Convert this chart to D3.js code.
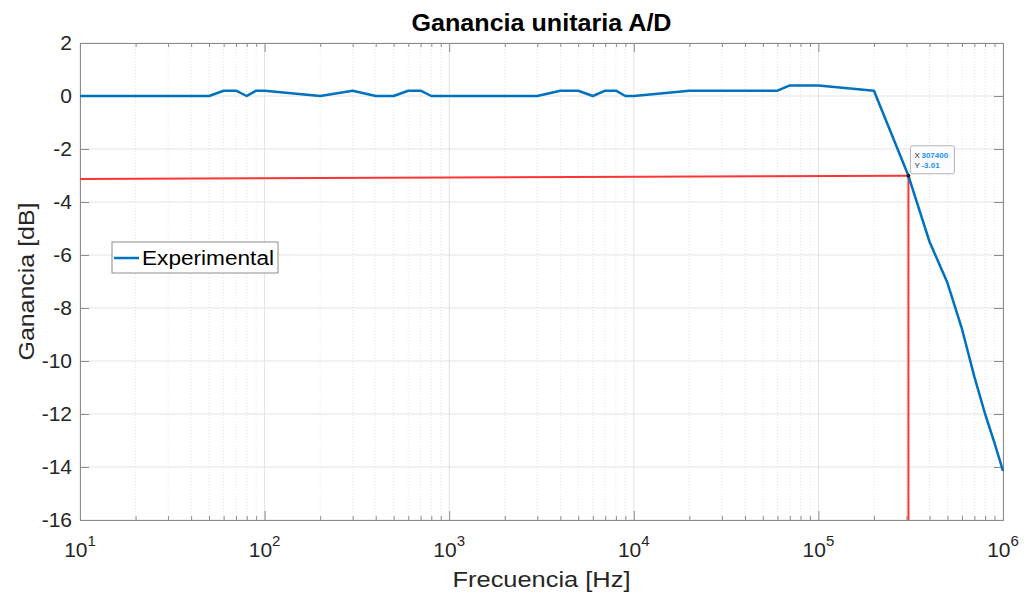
<!DOCTYPE html>
<meta charset="utf-8">
<script src="https://cdn.jsdelivr.net/npm/d3@7"></script>
<style>
body { margin: 0; background: #fff; }
text { font-family: "Liberation Sans", Arial, sans-serif; fill: #262626; }
</style>
<body>
<div id="chart"></div>
<script>
// measured points (frequency in Hz, gain in dB)
var freq = [10, 50, 60, 70, 80, 90, 100, 200, 300, 400, 500, 600, 700, 800, 1000, 2000, 3000,
            4000, 5000, 6000, 7000, 8000, 9000, 10000, 20000, 60000, 70000, 100000, 200000,
            307400, 400000, 500000, 600000, 700000, 800000, 900000, 1000000]
var gain = [0, 0, 0.2, 0.2, 0, 0.2, 0.2, 0, 0.2, 0, 0, 0.2, 0.2, 0, 0, 0, 0,
            0.2, 0.2, 0, 0.2, 0.2, 0, 0, 0.2, 0.2, 0.4, 0.4, 0.2,
            -3.01, -5.5, -7.05, -8.8, -10.6, -12.0, -13.1, -14.15]
// red marker lines (-3 dB point)
var cutH = [[10, -3.13], [307400, -3.01]]
var cutV = [[307400, -3.01], [307400, -16]]
var tipLabels = ["X", "Y"]
var tipValues = ["307400", "-3.01"]
var yTicks = [2, 0, -2, -4, -6, -8, -10, -12, -14, -16]
var xTicks = [1e1, 1e2, 1e3, 1e4, 1e5, 1e6]

var W = 1026, H = 596
var margin = {top: 43, right: 23, bottom: 76, left: 80}
var width = W - margin.left - margin.right
var height = H - margin.top - margin.bottom

var svg = d3.select("#chart").append("svg")
    .attr("width", W)
    .attr("height", H)

var g = svg.append("g")
    .attr("transform", "translate(" + margin.left + "," + margin.top + ")")

var x = d3.scaleLog().domain([10, 1e6]).range([0, width])
var y = d3.scaleLinear().domain([-16, 2]).range([height, 0])

// minor values for log grid
var minor = []
for (var e = 1; e < 6; e++) {
  for (var m = 2; m < 10; m++) minor.push(m * Math.pow(10, e))
}

// grid
g.append("g").selectAll("line.minor")
  .data(minor).enter().append("line")
  .attr("x1", d => x(d)).attr("x2", d => x(d))
  .attr("y1", 0).attr("y2", height)
  .attr("stroke", "#e4e4e4").attr("stroke-width", 1)
  .attr("stroke-dasharray", "1,2")

g.append("g").selectAll("line.vmaj")
  .data(xTicks).enter().append("line")
  .attr("x1", d => x(d)).attr("x2", d => x(d))
  .attr("y1", 0).attr("y2", height)
  .attr("stroke", "#e3e3e3").attr("stroke-width", 1)

g.append("g").selectAll("line.hmaj")
  .data(yTicks).enter().append("line")
  .attr("x1", 0).attr("x2", width)
  .attr("y1", d => y(d)).attr("y2", d => y(d))
  .attr("stroke", "#e3e3e3").attr("stroke-width", 1)

// axes (box with inward ticks)
var axisColor = "#8c8c8c"
function styleAxis(sel) {
  sel.select(".domain").attr("stroke", axisColor)
  sel.selectAll(".tick line").attr("stroke", axisColor)
  sel.selectAll(".tick text").remove()
}

g.append("g").attr("transform", "translate(0," + height + ")")
  .call(d3.axisBottom(x).tickValues(xTicks).tickSize(-9).tickSizeOuter(0))
  .call(styleAxis)
g.append("g")
  .call(d3.axisTop(x).tickValues(xTicks).tickSize(-9).tickSizeOuter(0))
  .call(styleAxis)
// minor ticks top & bottom
g.append("g").attr("transform", "translate(0," + height + ")")
  .call(d3.axisBottom(x).tickValues(minor).tickSize(-4).tickSizeOuter(0))
  .call(styleAxis)
g.append("g")
  .call(d3.axisTop(x).tickValues(minor).tickSize(-4).tickSizeOuter(0))
  .call(styleAxis)

var yLeft = g.append("g")
  .call(d3.axisLeft(y).tickValues(yTicks).tickSize(-9).tickSizeOuter(0)
    .tickFormat(d => String(d)))
yLeft.select(".domain").attr("stroke", axisColor)
yLeft.selectAll(".tick line").attr("stroke", axisColor)
yLeft.selectAll(".tick text")
  .attr("x", -8)
  .style("font-size", "21px")
  .attr("fill", "#262626")
  .style("font-family", "Liberation Sans, Arial, sans-serif")

g.append("g").attr("transform", "translate(" + width + ",0)")
  .call(d3.axisRight(y).tickValues(yTicks).tickSize(-9).tickSizeOuter(0))
  .call(styleAxis)

// x tick labels 10^n
var xl = g.append("g").selectAll("text.xl")
  .data(xTicks).enter().append("text")
  .attr("x", d => x(d))
  .attr("y", height + 37)
  .attr("text-anchor", "middle")
  .style("font-size", "21px")
xl.append("tspan").text("10")
xl.append("tspan")
  .attr("dy", -11)
  .style("font-size", "15px")
  .text(d => Math.round(Math.log10(d)))

// data line
var line = d3.line().x(d => x(d[0])).y(d => y(d[1]))
var pts = freq.map((f, i) => [f, gain[i]])

g.selectAll("path.cut")
  .data([cutH, cutV]).enter().append("path")
  .attr("d", line)
  .attr("fill", "none")
  .attr("stroke", "#ff3535")
  .attr("stroke-width", 2)

g.append("path")
  .datum(pts)
  .attr("d", line)
  .attr("fill", "none")
  .attr("stroke", "#0072BD")
  .attr("stroke-width", 2.5)
  .attr("stroke-linejoin", "round")

// data tip
var tipX = x(cutV[0][0]), tipY = y(cutV[0][1])
g.append("circle")
  .attr("cx", tipX).attr("cy", tipY).attr("r", 2)
  .attr("fill", "#222")
var tip = g.append("g").attr("transform", "translate(" + (tipX + 2) + "," + (tipY - 30) + ")")
tip.append("rect")
  .attr("width", 44).attr("height", 28).attr("rx", 2)
  .attr("fill", "#fbfcff")
  .attr("stroke", "#b4b4b4")
tip.selectAll("text.tl")
  .data(tipLabels).enter().append("text")
  .attr("x", 4).attr("y", (d, i) => 12 + i * 10)
  .style("font-size", "8px")
  .attr("fill", "#444")
  .text(d => d)
tip.selectAll("text.tv")
  .data(tipValues).enter().append("text")
  .attr("x", 11).attr("y", (d, i) => 12 + i * 10)
  .style("font-size", "8px")
  .style("font-weight", "bold")
  .style("fill", "#1e8ff0")
  .text(d => d)

// legend
var leg = g.append("g").attr("transform", "translate(32,199)")
leg.append("rect")
  .attr("width", 166).attr("height", 31)
  .attr("fill", "#fff")
  .attr("stroke", "#8c8c8c")
leg.append("line")
  .attr("x1", 2).attr("x2", 27).attr("y1", 16).attr("y2", 16)
  .attr("stroke", "#0072BD").attr("stroke-width", 2.5)
leg.append("text")
  .attr("x", 30).attr("y", 23)
  .attr("textLength", 132)
  .attr("lengthAdjust", "spacingAndGlyphs")
  .style("font-size", "20px")
  .style("fill", "#000")
  .text("Experimental")

// titles
svg.append("text")
  .attr("x", margin.left + width / 2)
  .attr("y", 31)
  .attr("text-anchor", "middle")
  .attr("textLength", 260)
  .attr("lengthAdjust", "spacingAndGlyphs")
  .style("font-size", "23px")
  .style("font-weight", "bold")
  .style("fill", "#000")
  .text("Ganancia unitaria A/D")

svg.append("text")
  .attr("x", margin.left + width / 2)
  .attr("y", 587)
  .attr("text-anchor", "middle")
  .attr("textLength", 178)
  .attr("lengthAdjust", "spacingAndGlyphs")
  .style("font-size", "22px")
  .text("Frecuencia [Hz]")

svg.append("text")
  .attr("transform", "translate(34," + (margin.top + height / 2) + ") rotate(-90)")
  .attr("text-anchor", "middle")
  .attr("textLength", 158)
  .attr("lengthAdjust", "spacingAndGlyphs")
  .style("font-size", "22px")
  .text("Ganancia [dB]")
</script>
</body>
